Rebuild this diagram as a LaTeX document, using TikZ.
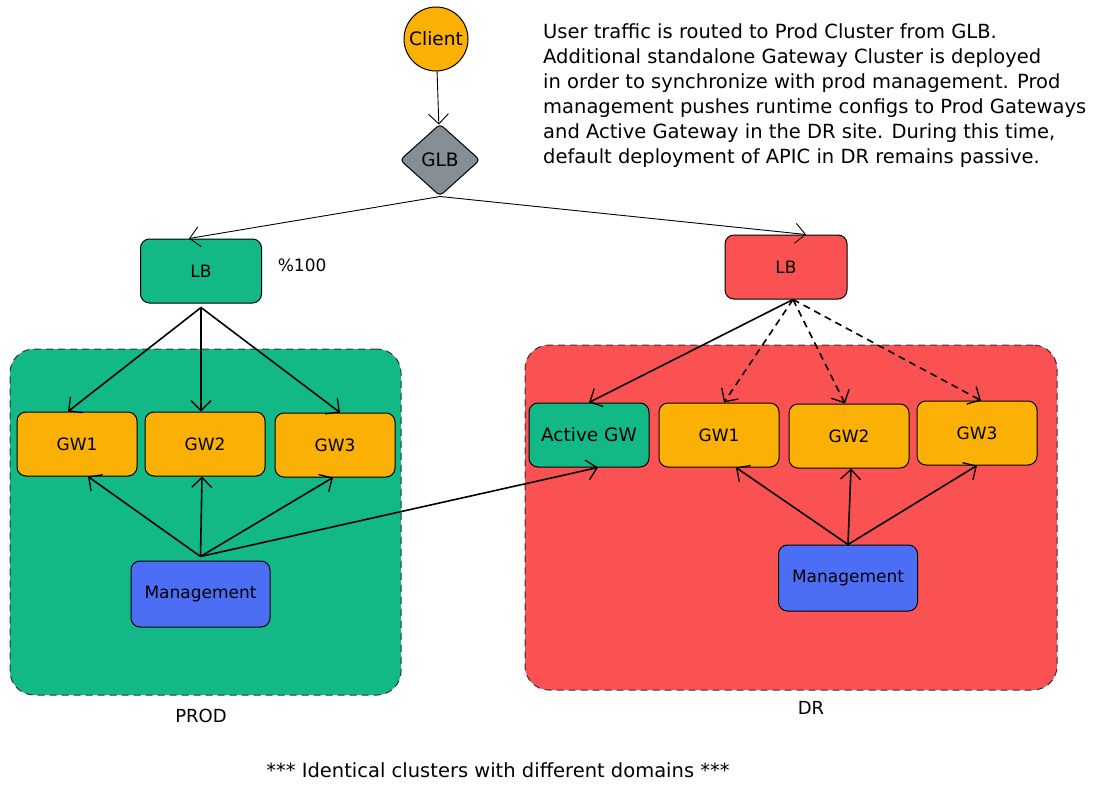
\documentclass[tikz,border=0pt]{standalone}
\usepackage{fontspec}
\setmainfont{DejaVu Sans}
\usetikzlibrary{shapes.geometric,arrows.meta}
\definecolor{gwOrange}{RGB}{250,176,5}
\definecolor{siteGreen}{RGB}{18,184,134}
\definecolor{siteRed}{RGB}{250,82,82}
\definecolor{mgmtBlue}{RGB}{76,110,245}
\definecolor{glbGray}{RGB}{134,142,150}
\tikzset{%
	box/.style      = {draw, line width=1pt, rounded corners=9pt, minimum width=120pt,
		minimum height=64pt, font=\fontsize{17}{20}\selectfont},
	gw/.style       = {box, fill=gwOrange},
	mgmt/.style     = {box, fill=mgmtBlue, minimum width=139pt, minimum height=66pt},
	cluster/.style  = {draw=black!80, dash pattern=on 7pt off 5pt, line width=1pt,
		rounded corners=24pt, inner sep=0pt}, % Site
	link/.style     = {line width=1.6pt, -{Straight Barb[length=10pt,width=20pt,line width=1.3pt]}},
	glink/.style    = {line width=0.9pt, -{Straight Barb[length=10pt,width=20pt,line width=0.9pt]}},
	plain/.style    = {font=\fontsize{18}{21}\selectfont}
}
\begin{document}
\begin{tikzpicture}[x=1pt,y=-1pt]
			\useasboundingbox (0,0) rectangle (1093,792);
			% sites
			\node[cluster, fill=siteGreen, minimum width=391pt, minimum height=346pt] (prod) at (205.5,522) {};
			\node[cluster, fill=siteRed, minimum width=532pt, minimum height=345pt] (dr) at (791,517.5) {};
			\node[plain] (prodlbl) at (201,716) {PROD};
			\node[plain] (drlbl) at (811,708) {DR};

			% entry
			\node[circle, draw, line width=1pt, fill=gwOrange, minimum size=64pt, inner sep=0pt,
				font=\fontsize{18.5}{21}\selectfont] (client) at (436,39) {Client};
			\node[diamond, draw, line width=1pt, fill=glbGray, minimum width=80pt, minimum height=72pt,
				inner sep=0pt, rounded corners=4pt, font=\fontsize{18.5}{21}\selectfont] (glb) at (440,160) {GLB};
			\node[anchor=north west, inner sep=0pt, align=left, font=\fontsize{19.5}{25}\selectfont] (note) at (543,23)
				{User traffic is routed to Prod Cluster from GLB.\\
				 Additional standalone Gateway Cluster is deployed\\
				 in order to synchronize with prod management. Prod\\
				 management pushes runtime configs to Prod Gateways\\
				 and Active Gateway in the DR site. During this time,\\
				 default deployment of APIC in DR remains passive.};

			% prod site
			\node[box, fill=siteGreen, minimum width=121pt] (lbL) at (201,271) {LB};
			\node[box, draw=none, fill=none, minimum width=0pt, minimum height=0pt, anchor=west] (share) at (274,265) {\%100};
			\node[gw] (gwL1) at (77,444) {GW1};
			\node[gw] (gwL2) at (205,444) {GW2};
			\node[gw] (gwL3) at (335,445) {GW3};
			\node[mgmt] (mgL) at (200.5,594) {Management};

			% dr site
			\node[box, fill=siteRed, minimum width=122pt] (lbR) at (786,267) {LB};
			\node[box, fill=siteGreen, font=\fontsize{18.5}{21}\selectfont] (agw) at (589,435) {Active GW};
			\node[gw] (gwR1) at (719,435) {GW1};
			\node[gw] (gwR2) at (849,436) {GW2};
			\node[gw] (gwR3) at (977,433) {GW3};
			\node[mgmt] (mgR) at (848,578) {Management};

			\node[font=\fontsize{19.5}{23}\selectfont] (footer) at (498,770) {*** Identical clusters with different domains ***};

			\draw[glink] (client) -- (glb);
			\draw[glink] (glb.south) -- ([xshift=-12pt]lbL.north);
			\draw[glink] (glb.south) -- ([xshift=20pt]lbR.north);

			\draw[link] ([yshift=-4pt]lbL.south) -- ([xshift=-9pt]gwL1.north);
			\draw[link] ([yshift=-4pt]lbL.south) -- ([xshift=-4pt]gwL2.north);
			\draw[link] ([yshift=-4pt]lbL.south) -- ([xshift=5pt]gwL3.north);

			\draw[link] ([yshift=4pt]mgL.north) -- ([xshift=11pt]gwL1.south);
			\draw[link] ([yshift=4pt]mgL.north) -- ([xshift=-3pt]gwL2.south);
			\draw[link] ([yshift=4pt]mgL.north) -- ([xshift=-2pt]gwL3.south);
			\draw[link] ([yshift=4pt]mgL.north) -- ([xshift=9pt]agw.south);

			\draw[link] ([xshift=7pt]lbR.south) -- (agw.north);
			\draw[link, dash pattern=on 7pt off 5pt] ([xshift=7pt]lbR.south) -- ([xshift=5pt]gwR1.north);
			\draw[link, dash pattern=on 7pt off 5pt] ([xshift=7pt]lbR.south) -- ([xshift=-4pt]gwR2.north);
			\draw[link, dash pattern=on 7pt off 5pt] ([xshift=7pt]lbR.south) -- ([xshift=4pt]gwR3.north);

			\draw[link] (mgR.north) -- ([xshift=17pt]gwR1.south);
			\draw[link] (mgR.north) -- ([xshift=2pt]gwR2.south);
			\draw[link] (mgR.north) -- (gwR3.south);
		\end{tikzpicture}
\end{document}
